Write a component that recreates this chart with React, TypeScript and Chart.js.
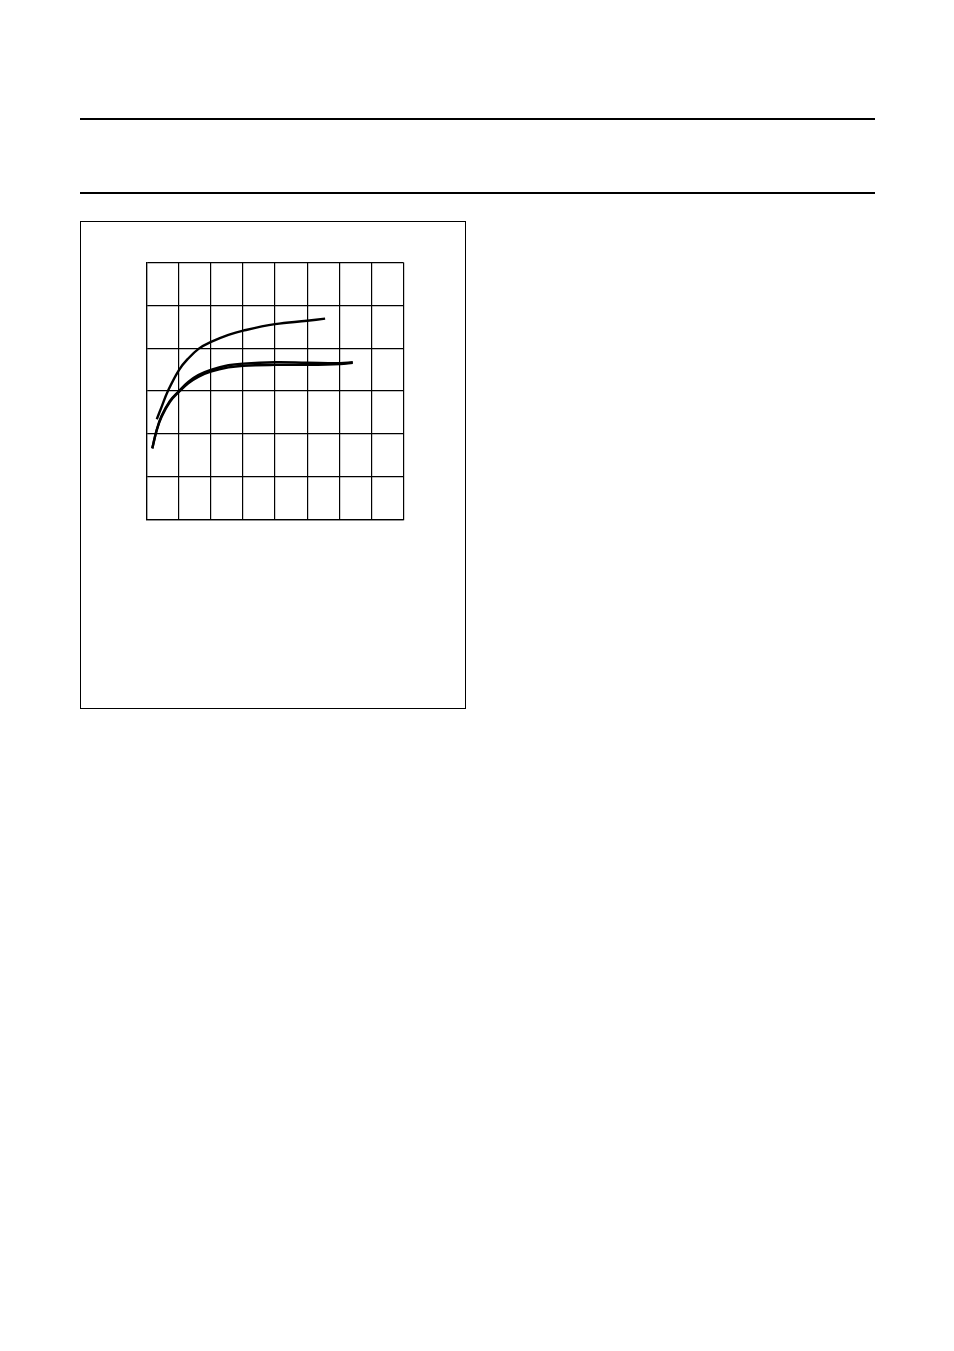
import Chart from "chart.js/auto";
import type { ChartOptions } from "chart.js";
import { useRef, useEffect } from "react";

// curve values (x: 0..8 columns, y: 0..6 rows from bottom)
const upperX = [0.32, 0.47, 0.66, 1.01, 1.3, 1.63, 1.99, 2.55, 3.01, 4.0, 5.0, 5.56];
const upperY = [2.34, 2.63, 2.99, 3.49, 3.76, 3.99, 4.14, 4.31, 4.41, 4.56, 4.64, 4.69];

const lowerX = [0.18, 0.32, 0.47, 0.73, 1.01, 1.3, 1.61, 2.0, 2.55, 3.01, 4.0, 5.0, 6.03, 6.42];
const lowerY = [1.66, 2.09, 2.4, 2.75, 2.98, 3.18, 3.33, 3.45, 3.55, 3.59, 3.61, 3.61, 3.63, 3.66];

const lower2X = [0.18, 0.32, 0.47, 0.73, 1.01, 1.3, 1.61, 2.0, 2.55, 3.01, 4.0, 5.0, 6.03, 6.42];
const lower2Y = [1.66, 2.1, 2.42, 2.77, 3.0, 3.21, 3.37, 3.49, 3.6, 3.64, 3.67, 3.66, 3.65, 3.67];

const xMax = 8;
const yMax = 6;

const toPoints = (xs: number[], ys: number[]) =>
  xs.map((x, i) => ({ x, y: ys[i] }));

const CurveChart: React.FC = () => {
  const chartRef = useRef<HTMLCanvasElement>(null);
  const chartInstance = useRef<Chart>();

  useEffect(() => {
    if (!chartRef.current) return;

    const line = (xs: number[], ys: number[]) => ({
      data: toPoints(xs, ys),
      borderColor: "#000",
      borderWidth: 2.4,
      pointRadius: 0,
      tension: 0.4,
      fill: false,
    });

    const options: ChartOptions<"line"> = {
      animation: false,
      responsive: false,
      layout: { padding: { left: 6.5, right: 6.5, top: 6.5, bottom: 6.5 } },
      plugins: { legend: { display: false }, tooltip: { enabled: false } },
      scales: {
        x: {
          type: "linear",
          min: 0,
          max: xMax,
          ticks: { display: false, stepSize: 1 },
          grid: { color: "#000", lineWidth: 1.2, drawTicks: false },
          border: { color: "#000", width: 1.2 },
        },
        y: {
          type: "linear",
          min: 0,
          max: yMax,
          ticks: { display: false, stepSize: 1 },
          grid: { color: "#000", lineWidth: 1.2, drawTicks: false },
          border: { color: "#000", width: 1.2 },
        },
      },
    };

    const ctx = chartRef.current.getContext("2d");
    if (ctx) {
      if (chartInstance.current) chartInstance.current.destroy();
      chartInstance.current = new Chart(ctx, {
        type: "line",
        data: {
          datasets: [
            line(upperX, upperY),
            line(lowerX, lowerY),
            line(lower2X, lower2Y),
          ],
        },
        options,
      });
    }

    return () => {
      if (chartInstance.current) chartInstance.current.destroy();
    };
  }, []);

  return (
    <canvas
      ref={chartRef}
      width={270}
      height={270}
      style={{ position: "absolute", left: 140, top: 256, width: 270, height: 270 }}
    ></canvas>
  );
};

const App: React.FC = () => {
  return (
    <div style={{ position: "absolute", left: 0, top: 0, width: 954, height: 1351 }}>
      <div style={{ position: "absolute", left: 80, top: 118, width: 795, height: 2, background: "#000" }} />
      <div style={{ position: "absolute", left: 80, top: 192, width: 795, height: 2, background: "#000" }} />
      <div
        style={{
          position: "absolute",
          left: 80,
          top: 221,
          width: 386,
          height: 488,
          border: "1px solid #000",
          boxSizing: "border-box",
        }}
      />
      <CurveChart />
    </div>
  );
};

export default App;
